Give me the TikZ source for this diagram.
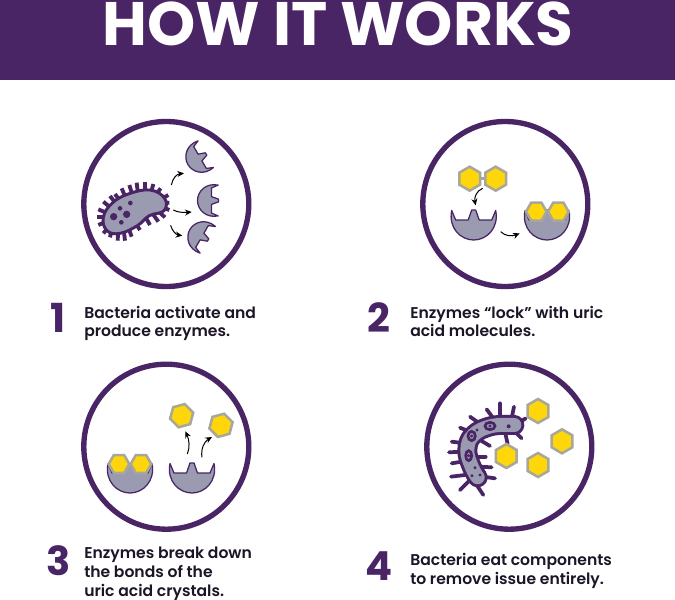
\documentclass[tikz,border=0pt]{standalone}
\usepackage{fontspec}
\setmainfont{Poppins}[BoldFont={Poppins SemiBold}]
\newfontfamily\headfont{Poppins}
\usetikzlibrary{shapes.geometric,arrows.meta}
\definecolor{grape}{HTML}{4A2566}
\definecolor{slategrey}{HTML}{9A9BB0}
\definecolor{acid}{HTML}{FFD60A}
\definecolor{acidedge}{HTML}{A8A79B}
\definecolor{ink}{HTML}{1C1526}
\tikzset{
  ring/.style={draw=grape,line width=4pt,fill=white,circle,minimum size=123.75pt,inner sep=0pt},
  hexa/.style={regular polygon,regular polygon sides=6,draw=acidedge,fill=acid,line width=1.9pt,minimum size=#1,inner sep=0pt},
  hexa/.default=18pt,
  flow/.style={line width=.75pt,black,-{Stealth[length=5pt,width=4.5pt]}},
  cup/.style={fill=slategrey,draw=grape,line width=.95pt,line join=round},
  stepnum/.style={text=grape,font=\fontsize{30}{30}\selectfont\headfont\bfseries,anchor=base,inner sep=0pt},
  caption/.style={text=ink,font=\fontsize{11.7}{15}\selectfont\bfseries,anchor=base west,inner sep=0pt},
  zoomA/.style={x=.25pt,y=-.25pt,shift={(52.5pt,-90pt)}},
  zoomB/.style={x=.25pt,y=-.25pt,shift={(307.5pt,-90pt)}},
  zoomC/.style={x=.25pt,y=-.25pt,shift={(52.5pt,-270pt)}},
  zoomD/.style={x=.25pt,y=-.25pt,shift={(311.25pt,-270pt)}},
}
% enzyme: opening faces up, origin on the floor of its teeth
\newcommand{\enzyme}[4]{%
  \begin{scope}[shift={(#1*.75pt,-#2*.75pt)},rotate=#3,scale=#4,x=.75pt,y=-.75pt]
    \draw[cup] (-22,-9.5) -- (-18,0) -- (-5.5,0) -- (-2,-10) -- (2,-10) -- (5.5,0) -- (18,0) -- (22,-9.5)
      .. controls (25.5,8) and (13,20) .. (0,20) .. controls (-13,20) and (-25.5,8) .. (-22,-9.5) -- cycle;
  \end{scope}}
\begin{document}
\begin{tikzpicture}[x=.75pt,y=-.75pt]
\useasboundingbox (0,0) rectangle (675,600);
\fill[white] (0,0) rectangle (675,600);
\fill[grape] (0,0) rectangle (675,80);
\node[anchor=base,text=white,inner sep=0pt,font=\fontsize{46}{46}\selectfont\headfont\bfseries] (title) at (338,45) {HOW IT WORKS};

% circular frames
\node[ring] (c1) at (166.3,204) {};
\node[ring] (c2) at (505.3,204) {};
\node[ring] (c3) at (166.3,446.7) {};
\node[ring] (c4) at (509.3,446.7) {};

% step 1: bacterium releasing enzymes
\begin{scope}[zoomA]
  \foreach \xa/\ya/\xb/\yb in {80/290/120/290,85/268/125/285,100/245/130/270,120/228/145/260,135/222/155/250,155/205/170/240,178/195/190/235,200/188/205/230,225/187/225/230,250/192/240/230,272/205/250/235,295/225/260/245,298/248/260/250,298/270/260/255,285/292/255/265,265/305/240/270,240/315/220/280,210/330/190/300,185/350/170/310,165/362/160/320,143/362/145/320,120/352/130/310,100/340/125/310,85/315/120/300}
    \draw[grape,line width=2.9pt] (\xa,\ya) -- (\xb,\yb);
  \draw[fill=slategrey,draw=grape,line width=2.2pt] plot[smooth cycle,tension=.7] coordinates {(100,292) (126,250) (175,222) (240,210) (284,235) (282,272) (238,287) (202,317) (150,340) (111,332)};
  \fill[grape] (131,290) circle (11) (170,283) circle (11) (150,265) circle (7) (181,249) circle (7) (154,307) circle (7);
\end{scope}
\enzyme{211.5}{200.5}{-90}{.7}
\enzyme{200}{157.5}{-60}{.7}
\enzyme{202}{236.5}{-120}{.7}
\begin{scope}[zoomA]
  \draw[flow] (304,195) .. controls (308,175) and (320,162) .. (342,160);
  \draw[flow] (310,270) .. controls (322,277) and (340,278) .. (365,276);
  \draw[flow] (302,316) .. controls (306,332) and (318,344) .. (337,347);
\end{scope}

% step 2: uric acid locking into enzyme
\enzyme{473.7}{220}{0}{1}
\enzyme{547}{220}{0}{1}
\begin{scope}[zoomB]
  \draw[acidedge,line width=2.4pt] (205,176) -- (232,176);
  \node[hexa,rotate=30] (h1) at (179,176) {};
  \node[hexa,rotate=30] (h2) at (257,176) {};
  \node[hexa=15.5pt] (h3) at (379,275) {};
  \node[hexa=15.5pt] (h4) at (445,275) {};
  \draw[flow] (218,205) .. controls (200,212) and (192,232) .. (197,256);
  \draw[flow] (272,335) .. controls (285,348) and (305,350) .. (329,340);
\end{scope}

% step 3: bonds broken, fragments released
\enzyme{130}{473}{0}{1}
\enzyme{192}{473}{0}{1}
\begin{scope}[zoomC]
  \node[hexa=15.5pt] (h5) at (147,312) {};
  \node[hexa=15.5pt] (h6) at (213,312) {};
  \node[hexa,rotate=15] (h7) at (335,167) {};
  \node[hexa,rotate=15] (h8) at (453,196) {};
  \draw[flow] (352,282) .. controls (360,262) and (358,240) .. (346,214);
  \draw[flow] (396,292) .. controls (392,268) and (402,245) .. (426,231);
\end{scope}

% step 4: bacterium eating the fragments
\begin{scope}[zoomD]
  \foreach \xa/\ya/\xb/\yb in {255/130/255/175,297/140/290/175,215/148/235/175,165/170/200/195,135/203/165/215,110/245/150/250,102/277/140/275,110/310/140/305,108/350/150/345,135/390/165/360,205/405/185/375,240/355/205/350,230/322/195/320,212/290/185/290,225/258/195/240,278/252/272/225,320/235/295/210,332/175/310/190}
    \draw[grape,line width=2.8pt,line cap=round] (\xa,\ya) -- (\xb,\yb);
  \draw[grape,line width=15pt,line cap=round,line join=round] plot[smooth,tension=.7] coordinates {(298,195) (230,198) (175,225) (157,270) (170,320) (188,352)};
  \draw[slategrey,line width=10.5pt,line cap=round,line join=round] plot[smooth,tension=.7] coordinates {(298,195) (230,198) (175,225) (157,270) (170,320) (188,352)};
  \draw[grape,fill=slategrey,line width=2pt] (225,198) ellipse (15 and 11) (170,228) ellipse (11 and 14) (161,287) ellipse (9 and 15);
  \fill[grape] (281,199) circle (6) (186,210) circle (5) (180,323) circle (5) (171,347) circle (5) (195,345) circle (5) (225,198) circle (5) (170,228) circle (5) (161,287) circle (5);
  \node[hexa,rotate=30] (h9) at (369,153) {};
  \node[hexa,rotate=30] (h10) at (441,244) {};
  \node[hexa,rotate=30] (h11) at (274,288) {};
  \node[hexa,rotate=30] (h12) at (369,315) {};
\end{scope}

% step captions
\node[stepnum] (n1) at (58.5,332) {1};
\node[stepnum] (n2) at (379,332) {2};
\node[stepnum] (n3) at (59,575) {3};
\node[stepnum] (n4) at (379,580) {4};
\node[caption] (t1a) at (84,318) {Bacteria activate and};
\node[caption] (t1b) at (84,336) {produce enzymes.};
\node[caption] (t2a) at (410,318) {Enzymes “lock” with uric};
\node[caption] (t2b) at (410,336) {acid molecules.};
\node[caption] (t3a) at (84,558) {Enzymes break down};
\node[caption] (t3b) at (84,577) {the bonds of the};
\node[caption] (t3c) at (84,596) {uric acid crystals.};
\node[caption] (t4a) at (410,565) {Bacteria eat components};
\node[caption] (t4b) at (410,584) {to remove issue entirely.};
\end{tikzpicture}
\end{document}
